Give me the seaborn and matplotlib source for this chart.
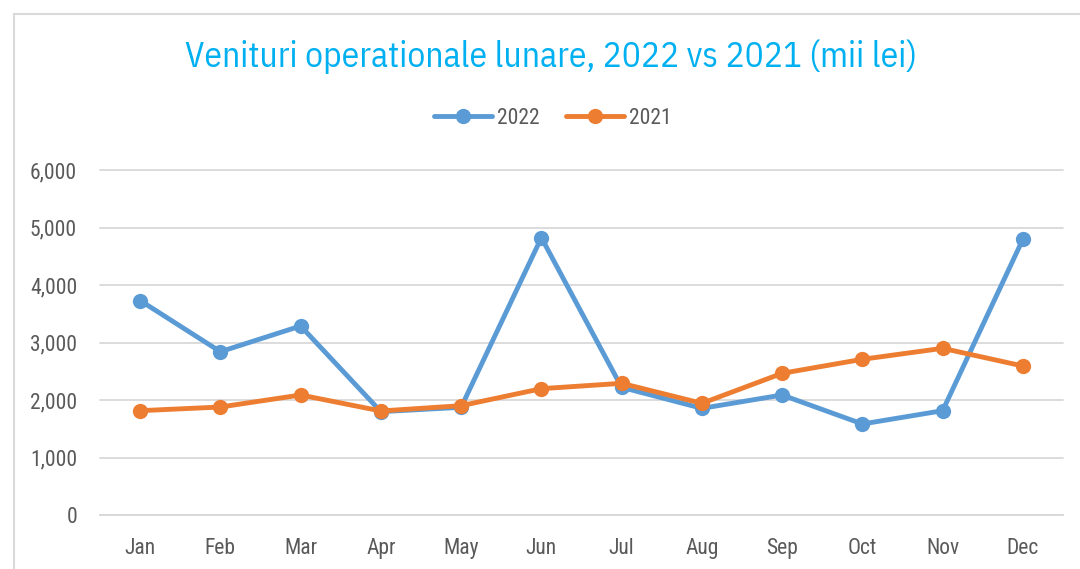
import matplotlib
matplotlib.use("Agg")
import matplotlib.pyplot as plt
import seaborn as sns
import pandas as pd
from matplotlib.patches import Rectangle
from matplotlib.ticker import FuncFormatter

months = ["Jan", "Feb", "Mar", "Apr", "May", "Jun", "Jul", "Aug", "Sep", "Oct", "Nov", "Dec"]
values_2022 = [3730, 2840, 3287, 1797, 1873, 4823, 2220, 1855, 2087, 1583, 1814, 4795]
values_2021 = [1814, 1878, 2087, 1809, 1901, 2197, 2290, 1942, 2464, 2708, 2899, 2591]
series_names = ["2022", "2021"]
colors = ["#5B9BD5", "#ED7D31"]
title = "Venituri operationale lunare, 2022 vs 2021 (mii lei)"

sns.set_theme(style="white")
plt.rcParams["font.family"] = ["Roboto Condensed", "DejaVu Sans"]

df = pd.DataFrame({
    "month": months * 2,
    "value": values_2022 + values_2021,
    "year": ["2022"] * 12 + ["2021"] * 12,
})

fig = plt.figure(figsize=(10.8, 5.69), dpi=100)
fig.patch.set_facecolor("white")
fig.patches.append(Rectangle((14 / 1080, -0.01), 1.02, 1 - 14 / 569 + 0.01,
                             transform=fig.transFigure, fill=False,
                             edgecolor="#D9D9D9", linewidth=1.5))
ax = fig.add_axes([100 / 1080, (569 - 515) / 569, (1063 - 100) / 1080, (515 - 170) / 569])

sns.lineplot(data=df, x="month", y="value", hue="year", hue_order=series_names,
             palette=colors, marker="o", markersize=11, markeredgewidth=0,
             linewidth=3.5, sort=False, ax=ax, solid_capstyle="round")

ax.set_xlim(-0.5, 11.5)
ax.set_ylim(0, 6000)
ax.set_yticks(range(0, 6001, 1000))
ax.yaxis.set_major_formatter(FuncFormatter(lambda v, p: f"{int(v):,}"))
ax.grid(axis="y", color="#D9D9D9", linewidth=1.3)
ax.grid(axis="x", visible=False)
for gl in ax.get_ygridlines():
    gl.set_clip_on(False)
for s in ["top", "right", "left"]:
    ax.spines[s].set_visible(False)
ax.spines["bottom"].set_color("#D9D9D9")
ax.spines["bottom"].set_linewidth(1.3)
ax.set_xlabel("")
ax.set_ylabel("")
ax.tick_params(axis="both", length=0, labelsize=15.5, labelcolor="#595959")
ax.tick_params(axis="x", pad=16.5)
ax.tick_params(axis="y", pad=16.5)

fig.text(551 / 1080, 1 - 57 / 569, title, ha="center", va="center",
         fontsize=25.5, color="#00B0F0",
         family=["IBM Plex Sans Condensed", "Roboto Condensed", "DejaVu Sans"])

leg = ax.legend(loc="center", bbox_to_anchor=(553 / 1080, 1 - 118 / 569),
                bbox_transform=fig.transFigure, ncol=2, frameon=False,
                fontsize=15.5, handlelength=2.7, columnspacing=1.2, handletextpad=0.25)
for t in leg.get_texts():
    t.set_color("#595959")
for h in leg.legend_handles:
    h.set_solid_capstyle("round")

fig.savefig("out.png", dpi=100)
